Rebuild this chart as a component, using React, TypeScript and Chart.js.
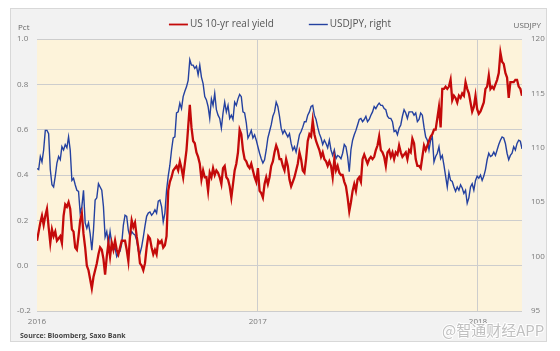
import React, { useEffect, useRef } from 'react';
import { Chart, registerables } from 'chart.js';

Chart.register(...registerables);

// Time axis: days since 1 Jan 2016, year boundaries as ticks
const yearTickDays = [0, 366, 731];
const yearLabels = ['2016', '2017', '2018'];
const DAY_STEP = 2.7535; // spacing of the sampled observations, in days
const X_MAX = 804;

const seriesNames = ['US 10-yr real yield', 'USDJPY, right'];

// US 10-yr real yield, Pct (left axis)
const realYield = [
  0.11, 0.15, 0.19, 0.22, 0.18, 0.22, 0.25, 0.17, 0.10, 0.16,
  0.13, 0.15, 0.11, 0.12, 0.13, 0.10, 0.22, 0.27, 0.26, 0.28,
  0.25, 0.16, 0.15, 0.08, 0.07, 0.13, 0.20, 0.23, 0.14, 0.08,
  0.00, -0.02, -0.06, -0.10, -0.05, -0.02, 0.01, 0.05, 0.08, 0.07,
  0.03, -0.04, 0.04, 0.10, 0.04, 0.10, 0.07, 0.11, 0.07, 0.05,
  0.08, 0.11, 0.11, 0.11, 0.07, 0.02, 0.13, 0.20, 0.17, 0.19,
  0.13, 0.08, 0.01, 0.00, -0.02, 0.01, 0.08, 0.13, 0.12, 0.08,
  0.05, 0.07, 0.05, 0.11,
  0.10, 0.11, 0.08, 0.09, 0.13, 0.33, 0.37, 0.39, 0.42, 0.43,
  0.44, 0.42, 0.46, 0.43, 0.39, 0.45, 0.51, 0.61, 0.71, 0.61,
  0.55, 0.54, 0.50, 0.48, 0.45, 0.38, 0.42, 0.39, 0.39, 0.33,
  0.41, 0.39, 0.43, 0.40, 0.42, 0.41, 0.39, 0.36, 0.43, 0.44,
  0.39, 0.38, 0.35, 0.30, 0.36, 0.42, 0.45, 0.50, 0.60, 0.58,
  0.51, 0.47, 0.46, 0.44, 0.43, 0.45, 0.42, 0.39, 0.37, 0.43,
  0.33, 0.32, 0.30, 0.36, 0.39, 0.36, 0.39, 0.44, 0.46, 0.50,
  0.53, 0.51, 0.47, 0.47, 0.44, 0.42, 0.47, 0.44,
  0.38, 0.35, 0.37, 0.39, 0.42, 0.45, 0.50, 0.47, 0.42, 0.41,
  0.47, 0.55, 0.58, 0.57, 0.64, 0.58, 0.55, 0.53, 0.51, 0.48,
  0.50, 0.47, 0.46, 0.44, 0.46, 0.44, 0.39, 0.47, 0.42, 0.44,
  0.41, 0.40, 0.40, 0.37, 0.35, 0.30, 0.24, 0.28, 0.33, 0.36,
  0.33, 0.38, 0.39, 0.37, 0.47, 0.49, 0.47, 0.45, 0.47, 0.48,
  0.47, 0.48, 0.51, 0.53, 0.57, 0.51, 0.50, 0.48, 0.44, 0.50,
  0.51, 0.48, 0.50, 0.47, 0.50, 0.49, 0.53, 0.50, 0.48, 0.49,
  0.50, 0.47, 0.51, 0.50, 0.56, 0.54, 0.47, 0.44,
  0.44, 0.43, 0.48, 0.53, 0.51, 0.53, 0.55, 0.57, 0.58, 0.60,
  0.60, 0.65, 0.70, 0.61, 0.78, 0.78, 0.79, 0.78, 0.79, 0.82,
  0.73, 0.75, 0.74, 0.72, 0.75, 0.74, 0.76, 0.75, 0.81, 0.78,
  0.76, 0.72, 0.68, 0.70, 0.75, 0.69, 0.67, 0.68, 0.70, 0.72,
  0.78, 0.79, 0.84, 0.78, 0.79, 0.78, 0.80, 0.82, 0.85, 0.94,
  0.90, 0.89, 0.85, 0.83, 0.74, 0.81, 0.81, 0.81, 0.82, 0.82,
  0.79, 0.78, 0.75,
];

// USDJPY (right axis)
const usdjpy = [
  108.1, 108.0, 109.2, 108.7, 109.8, 111.6, 111.6, 111.3, 108.0, 106.6,
  106.4, 107.4, 108.6, 109.2, 108.9, 110.1, 109.8, 110.3, 110.0, 111.0,
  109.8, 107.0, 107.2, 106.6, 106.1, 106.0, 104.0, 104.6, 106.1, 103.1,
  102.6, 103.1, 102.1, 100.6, 102.4, 105.2, 105.4, 106.7, 106.4, 106.1,
  104.6, 101.8, 102.3, 101.1, 102.3, 101.2, 100.6, 100.8, 100.0, 100.3,
  100.5, 101.2, 102.9, 103.8, 103.7, 102.4, 101.8, 102.3, 102.1, 102.0,
  101.5, 100.5, 100.3, 100.9, 101.8, 102.8, 103.7, 104.0, 104.1, 103.8,
  104.0, 104.3, 104.0, 105.1,
  105.2, 104.6, 103.2, 104.0, 106.1, 107.4, 108.4, 109.8, 110.9, 111.0,
  113.2, 113.3, 114.1, 113.6, 114.7, 115.2, 115.6, 116.2, 118.1, 117.6,
  117.6, 117.3, 117.5, 116.7, 117.6, 116.5, 115.9, 114.7, 114.4, 113.8,
  112.7, 114.5, 113.9, 115.0, 113.5, 113.0, 112.7, 111.8, 113.2, 114.2,
  113.3, 113.9, 112.7, 113.0, 112.6, 114.2, 113.9, 114.5, 114.9, 114.7,
  113.3, 113.2, 112.3, 110.9, 111.2, 111.6, 110.9, 111.2, 110.7, 110.1,
  109.5, 109.0, 108.6, 108.9, 109.8, 110.9, 111.5, 112.1, 112.9, 113.3,
  114.2, 113.8, 112.9, 111.8, 111.3, 111.6, 111.3, 111.0,
  111.3, 110.4, 109.8, 110.1, 109.6, 110.4, 111.2, 111.5, 111.9, 112.4,
  112.4, 113.0, 113.3, 113.8, 113.9, 113.0, 112.6, 111.9, 111.3, 110.9,
  110.3, 110.7, 110.4, 110.0, 110.7, 109.8, 109.3, 109.8, 109.0, 109.3,
  109.2, 109.0, 109.5, 110.3, 110.1, 109.2, 107.8, 109.8, 110.7, 111.2,
  111.6, 112.1, 112.6, 112.7, 112.4, 112.6, 112.9, 112.4, 112.6, 113.0,
  113.3, 113.8, 113.6, 113.9, 114.1, 113.9, 113.9, 113.6, 113.5, 112.9,
  112.7, 112.7, 112.4, 111.5, 111.6, 111.2, 111.8, 112.1, 112.9, 113.5,
  113.2, 112.7, 113.3, 113.3, 113.3, 113.0, 113.2, 112.4,
  112.6, 113.2, 113.0, 111.9, 111.0, 110.7, 109.8, 110.7, 111.0, 108.7,
  109.2, 109.5, 110.1, 109.0, 109.3, 108.4, 107.4, 106.4, 107.7, 107.0,
  106.9, 106.4, 106.0, 106.4, 106.1, 106.6, 106.3, 105.8, 106.1, 104.9,
  105.4, 106.4, 106.7, 106.1, 107.0, 107.4, 107.2, 107.5, 107.0, 107.4,
  108.0, 108.9, 109.5, 109.2, 109.3, 109.6, 109.3, 109.8, 110.3, 110.7,
  111.0, 110.9, 110.4, 109.5, 108.9, 109.3, 109.5, 110.1, 109.8, 110.4,
  110.7, 110.6, 109.9,
];

const RED = '#c40a0a';
const BLUE = '#2441a0';
const GRID = '#cdcdcd';
const TICK = '#7a7a7a';
const FONT = "'Open Sans', 'DejaVu Sans', sans-serif";

const backgroundPlugin = {
  id: 'panelBackground',
  beforeDraw(chart: any) {
    const { ctx, chartArea: a, width, height } = chart;
    ctx.save();
    ctx.fillStyle = '#ffffff';
    ctx.fillRect(0, 0, width, height);
    ctx.fillStyle = '#f2f2f2';
    ctx.fillRect(10, 8, 537, 334);
    ctx.strokeStyle = '#d8d8d8';
    ctx.lineWidth = 1;
    ctx.strokeRect(10.5, 8.5, 536, 333);
    ctx.fillStyle = '#fdf3da';
    ctx.fillRect(a.left, a.top, a.right - a.left, a.bottom - a.top);
    ctx.restore();
  },
};

const decorPlugin = {
  id: 'decor',
  afterDraw(chart: any) {
    const { ctx } = chart;
    ctx.save();
    // Legend
    ctx.font = `10px ${FONT}`;
    ctx.textBaseline = 'middle';
    const markW = 19;
    const gap = 2;
    const itemGap = 35;
    const ds = chart.data.datasets;
    const widths = ds.map((d: any) => markW + gap + ctx.measureText(d.label).width);
    const total = widths.reduce((s: number, w: number) => s + w, 0) + itemGap * (ds.length - 1);
    let x = 280 - total / 2;
    const ly = 24.5;
    ds.forEach((d: any, i: number) => {
      ctx.strokeStyle = d.borderColor;
      ctx.lineWidth = i === 0 ? 1.8 : 1.4;
      ctx.beginPath();
      ctx.moveTo(x, ly);
      ctx.lineTo(x + markW, ly);
      ctx.stroke();
      ctx.fillStyle = '#555555';
      ctx.textAlign = 'left';
      ctx.fillText(d.label, x + markW + gap, ly);
      x += widths[i] + itemGap;
    });
    // Axis titles
    ctx.font = `8px ${FONT}`;
    ctx.fillStyle = '#666666';
    ctx.textAlign = 'left';
    ctx.fillText('Pct', 18, 28);
    ctx.textAlign = 'right';
    ctx.fillText('USDJPY', 541, 26);
    // Source
    ctx.font = `bold 7px ${FONT}`;
    ctx.fillStyle = '#444444';
    ctx.textAlign = 'left';
    ctx.fillText('Source: Bloomberg, Saxo Bank', 20, 336);
    // Watermark
    ctx.font = `15px 'Noto Sans CJK SC', sans-serif`;
    ctx.textAlign = 'left';
    ctx.lineWidth = 2;
    ctx.strokeStyle = 'rgba(255,255,255,0.9)';
    ctx.strokeText('@智通财经APP', 442, 330);
    ctx.fillStyle = 'rgba(185,185,185,0.9)';
    ctx.fillText('@智通财经APP', 442, 330);
    ctx.restore();
  },
};

export default function App() {
  const ref = useRef<HTMLCanvasElement>(null);

  useEffect(() => {
    const canvas = ref.current;
    if (!canvas) return;
    Chart.defaults.font.family = FONT;
    const days = realYield.map((_, i) => i * DAY_STEP);
    const chart = new Chart(canvas, {
      type: 'line',
      data: {
        datasets: [
          {
            label: seriesNames[0],
            data: realYield.map((v, i) => ({ x: days[i], y: v })),
            borderColor: RED,
            borderWidth: 2.3,
            yAxisID: 'y',
            pointRadius: 0,
            tension: 0,
          },
          {
            label: seriesNames[1],
            data: usdjpy.map((v, i) => ({ x: days[i], y: v })),
            borderColor: BLUE,
            borderWidth: 1.4,
            yAxisID: 'y1',
            pointRadius: 0,
            tension: 0,
          },
        ],
      },
      options: {
        responsive: false,
        animation: false,
        devicePixelRatio: 1,
        layout: { padding: { left: 17, right: 0, top: 39, bottom: 0 } },
        plugins: { legend: { display: false }, tooltip: { enabled: false } },
        scales: {
          x: {
            type: 'linear',
            min: 0,
            max: X_MAX,
            afterBuildTicks: (s: any) => {
              s.ticks = yearTickDays.map((v) => ({ value: v }));
            },
            afterFit: (s: any) => {
              s.height = 40;
            },
            ticks: {
              autoSkip: false,
              maxRotation: 0,
              padding: 6,
              color: TICK,
              font: { size: 8 },
              callback: (v: any) => yearLabels[yearTickDays.indexOf(Number(v))] ?? '',
            },
            grid: {
              drawTicks: false,
              color: (c: any) => (c.tick && c.tick.value === 0 ? 'rgba(0,0,0,0)' : GRID),
            },
            border: { display: false },
          },
          y: {
            position: 'left',
            min: -0.2,
            max: 1.0,
            afterFit: (s: any) => {
              s.width = 20;
            },
            ticks: {
              stepSize: 0.2,
              crossAlign: 'far',
              color: TICK,
              font: { size: 8 },
              callback: (v: any) => (Math.abs(Number(v)) < 1e-9 ? '0.0' : Number(v).toFixed(1)),
            },
            grid: { drawTicks: false, color: GRID },
            border: { display: false },
          },
          y1: {
            position: 'right',
            min: 95,
            max: 120,
            afterFit: (s: any) => {
              s.width = 38;
            },
            ticks: { stepSize: 5, padding: 9, color: TICK, font: { size: 8 } },
            grid: { display: false, drawTicks: false },
            border: { display: false },
          },
        },
      } as any,
      plugins: [backgroundPlugin, decorPlugin],
    });
    return () => chart.destroy();
  }, []);

  return (
    <div style={{ position: 'absolute', left: 0, top: 0, width: 560, height: 351 }}>
      <canvas ref={ref} width={560} height={351} style={{ display: 'block', width: 560, height: 351 }} />
    </div>
  );
}
